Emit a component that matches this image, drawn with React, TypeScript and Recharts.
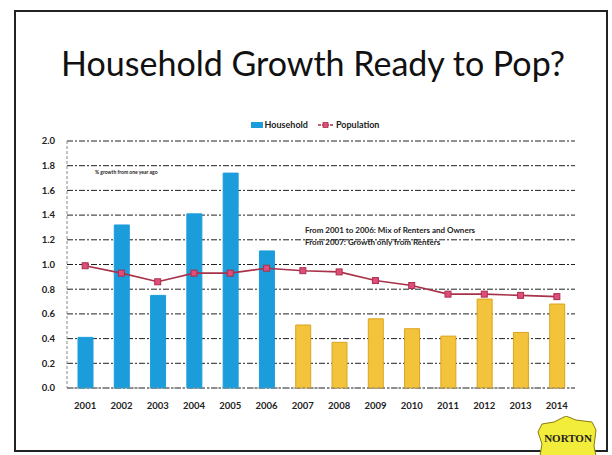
import React from "react";
import {
  ComposedChart,
  Bar,
  Line,
  XAxis,
  YAxis,
  CartesianGrid,
  Cell,
  Legend,
} from "recharts";

const years = ["2001", "2002", "2003", "2004", "2005", "2006", "2007", "2008", "2009", "2010", "2011", "2012", "2013", "2014"];
const household = [0.41, 1.32, 0.75, 1.41, 1.74, 1.11, 0.51, 0.37, 0.56, 0.48, 0.42, 0.72, 0.45, 0.68];
const population = [0.99, 0.93, 0.86, 0.93, 0.93, 0.97, 0.95, 0.94, 0.87, 0.83, 0.76, 0.76, 0.75, 0.74];
const yTicks = [0, 0.2, 0.4, 0.6, 0.8, 1.0, 1.2, 1.4, 1.6, 1.8, 2.0];
const ownersAndRenters = ["2001", "2002", "2003", "2004", "2005", "2006"];

const data = years.map((y, i) => ({ year: y, Household: household[i], Population: population[i] }));

const BLUE = "#1B9DDB";
const YELLOW = "#F4C33C";
const LINE = "#A8324A";
const MARK = "#E04C7C";
const FONT = "Lato, 'Open Sans', sans-serif";

const LegendContent = () => (
  <div style={{ display: "flex", justifyContent: "center", alignItems: "center", fontFamily: FONT, fontSize: 9, fontWeight: 700, color: "#222" }}>
    <span style={{ display: "inline-block", width: 12, height: 6, background: BLUE, marginRight: 2 }} />
    <span style={{ marginRight: 10 }}>Household</span>
    <svg width={16} height={8} style={{ marginRight: 2 }}>
      <line x1={0} y1={4} x2={16} y2={4} stroke={LINE} strokeWidth={1.5} strokeDasharray="3 1" />
      <rect x={5} y={1.5} width={5} height={5} fill={MARK} stroke={LINE} strokeWidth={0.8} />
    </svg>
    <span>Population</span>
  </div>
);

const Square = (props: any) => {
  const { cx, cy } = props;
  if (cx == null || cy == null) return null;
  return <rect x={cx - 3} y={cy - 3} width={6} height={6} fill={MARK} stroke={LINE} strokeWidth={1} />;
};

export default function App() {
  return (
    <div style={{ position: "absolute", left: 0, top: 0, width: 612, height: 455, background: "#fff", overflow: "hidden" }}>
      <div style={{ position: "absolute", left: 14, top: 10, width: 594, height: 442, border: "2px solid #222", boxSizing: "border-box" }} />
      <div style={{ position: "absolute", left: 0, top: 42, width: 626, textAlign: "center", fontFamily: FONT, fontSize: 34, color: "#111" }}>
        Household Growth Ready to Pop?
      </div>
      <div style={{ position: "absolute", left: 0, top: 0 }}>
        <ComposedChart width={612} height={455} data={data} margin={{ top: 130, right: 37, bottom: 37, left: 27 }}>
          <CartesianGrid vertical={false} stroke="#222" strokeDasharray="6 2 2 2" />
          <XAxis
            dataKey="year"
            tickLine={false}
            axisLine={{ stroke: "#888", strokeDasharray: "3 2" }}
            tick={{ fontFamily: FONT, fontSize: 9.5, fontWeight: 700, fill: "#222" }}
            tickMargin={8}
            height={30}
          />
          <YAxis
            domain={[0, 2]}
            ticks={yTicks}
            tickFormatter={(v: number) => v.toFixed(1)}
            tickLine={false}
            axisLine={{ stroke: "#888", strokeDasharray: "3 2" }}
            tick={{ fontFamily: FONT, fontSize: 9.5, fontWeight: 700, fill: "#222" }}
            width={40}
            tickMargin={6}
          />
          <Legend verticalAlign="top" wrapperStyle={{ top: 119, left: 0, width: 630 }} content={<LegendContent />} />
          <Bar dataKey="Household" barSize={15} isAnimationActive={false}>
            {data.map((d) => (
              <Cell
                key={d.year}
                fill={ownersAndRenters.includes(d.year) ? BLUE : YELLOW}
                stroke={ownersAndRenters.includes(d.year) ? BLUE : "#D9A520"}
              />
            ))}
          </Bar>
          <Line
            dataKey="Population"
            stroke={LINE}
            strokeWidth={1.6}
            dot={<Square />}
            activeDot={false}
            isAnimationActive={false}
          />
        </ComposedChart>
      </div>
      <div style={{ position: "absolute", left: 95, top: 169, fontFamily: FONT, fontSize: 5, fontWeight: 700, color: "#222" }}>
        % growth from one year ago
      </div>
      <div style={{ position: "absolute", left: 305, top: 224, fontFamily: FONT, fontSize: 8, fontWeight: 700, color: "#222", lineHeight: "12px" }}>
        <div>From 2001 to 2006: Mix of Renters and Owners</div>
        <div>From 2007: Growth only from Renters</div>
      </div>
      <div style={{ position: "absolute", left: 536, top: 416, width: 64, height: 40 }}>
        <svg width={64} height={40}>
          <polygon points="6,8 18,6 30,0 40,4 56,6 60,14 58,30 60,40 4,40 6,28 2,16" fill="#F2EC3A" stroke="#8a7a10" strokeWidth={1} />
          <text x={32} y={26} textAnchor="middle" fontFamily="'Liberation Serif', serif" fontWeight={700} fontSize={11} fill="#222">NORTON</text>
        </svg>
      </div>
    </div>
  );
}
